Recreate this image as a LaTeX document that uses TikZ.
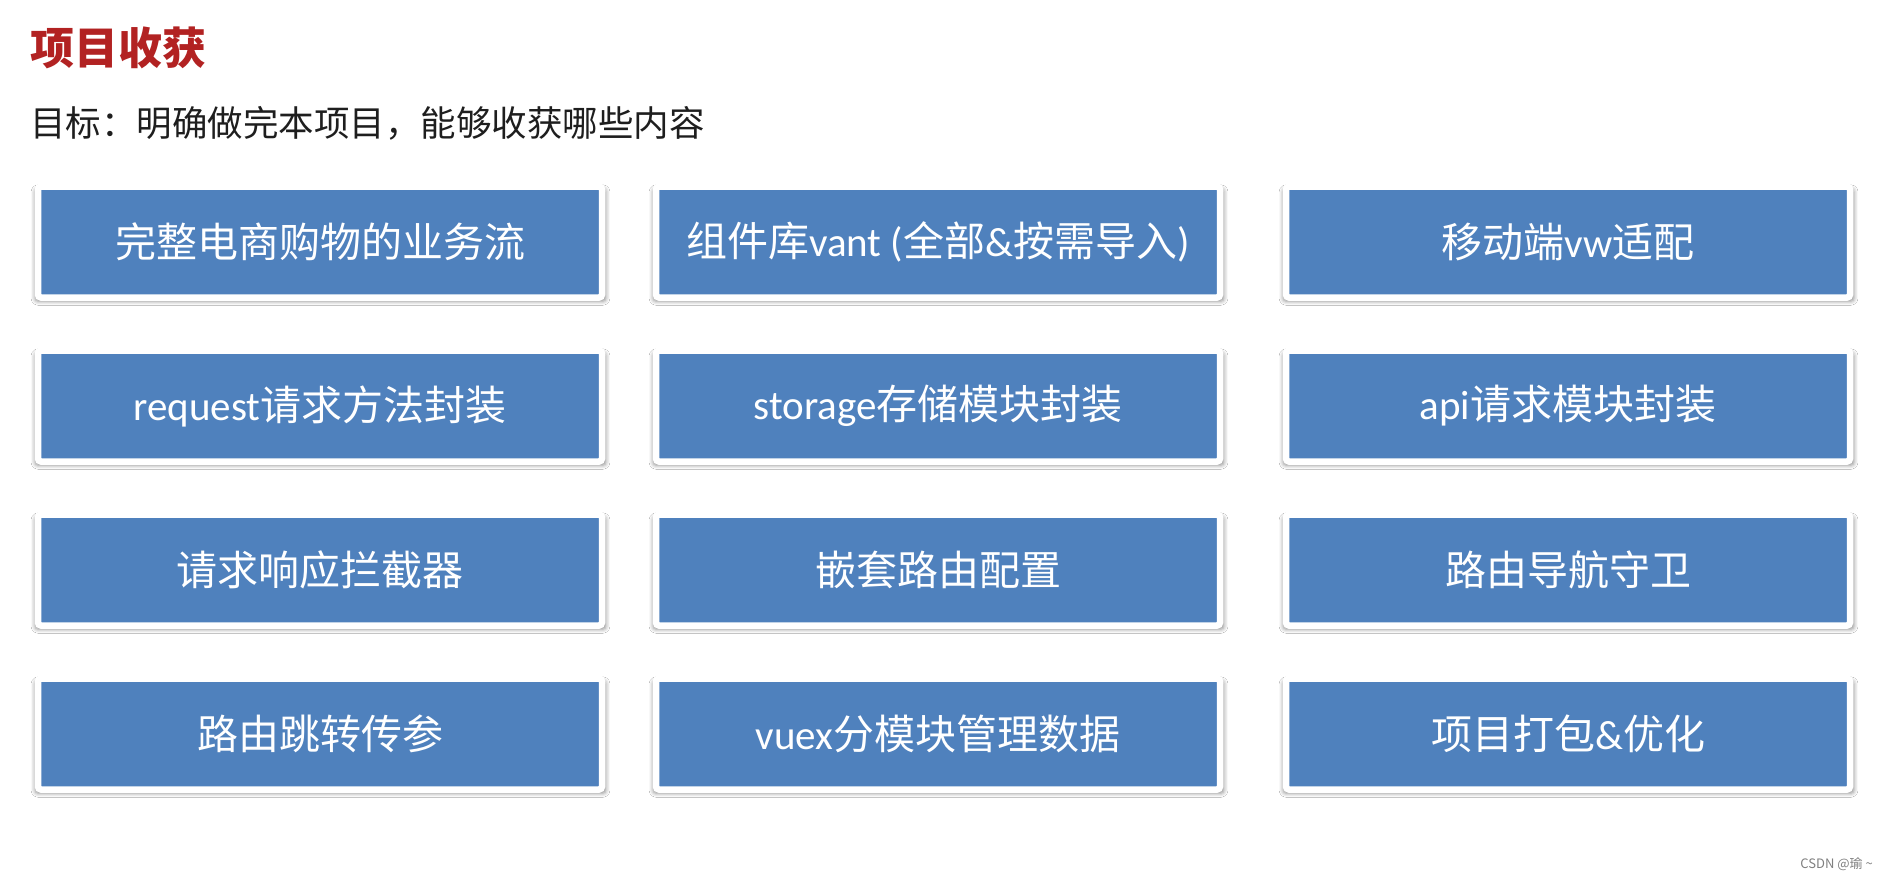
\documentclass[tikz,border=0pt]{standalone}
\usepackage{fontspec}
\setmainfont{Noto Sans CJK SC}
\newfontfamily\latinfont{Carlito}
\newcommand{\en}[1]{{\latinfont #1}}
\usetikzlibrary{shadows.blur}
\definecolor{boxblue}{RGB}{79,129,189}
\definecolor{titlered}{RGB}{178,34,34}
\definecolor{goalgray}{RGB}{30,30,30}
\begin{document}
\begin{tikzpicture}[x=1pt, y=1pt,
	item/.style={ rectangle, rounded corners=3pt, fill=boxblue, draw=white, line width=6.5pt, minimum width=564pt, minimum height=111pt, inner sep=0pt, text=white, font=\fontsize{41}{48}\selectfont, blur shadow={shadow xshift=0.5pt, shadow yshift=-3pt, shadow scale=1.012, shadow blur radius=4pt, shadow opacity=45} },
	heading/.style={ anchor=west, inner sep=0pt }
]

\path[fill=white, use as bounding box] (0,0) rectangle (1887,-879);

\node at (30,-48) (title) [heading, text=titlered, font=\fontsize{44}{50}\selectfont\bfseries] {项目收获};
\node at (30,-123) (goal) [heading, text=goalgray, font=\fontsize{35.5}{42}\selectfont] {目标：明确做完本项目，能够收获哪些内容};

\node at (320,-242) (r1c1) [item] {完整电商购物的业务流};
\node at (938,-242) (r1c2) [item] {组件库\en{vant (}全部\en{\&}按需导入\en{)}};
\node at (1568,-242) (r1c3) [item] {移动端\en{vw}适配};
\node at (320,-406) (r2c1) [item] {\en{request}请求方法封装};
\node at (938,-406) (r2c2) [item] {\en{storage}存储模块封装};
\node at (1568,-406) (r2c3) [item] {\en{api}请求模块封装};
\node at (320,-570) (r3c1) [item] {请求响应拦截器};
\node at (938,-570) (r3c2) [item] {嵌套路由配置};
\node at (1568,-570) (r3c3) [item] {路由导航守卫};
\node at (320,-734) (r4c1) [item] {路由跳转传参};
\node at (938,-734) (r4c2) [item] {\en{vuex}分模块管理数据};
\node at (1568,-734) (r4c3) [item] {项目打包\en{\&}优化};

\node at (1873,-864) (mark) [anchor=east, inner sep=0pt, text=gray, font=\fontsize{13}{15}\selectfont] {CSDN @瑜 \textasciitilde};

\end{tikzpicture}
\end{document}
